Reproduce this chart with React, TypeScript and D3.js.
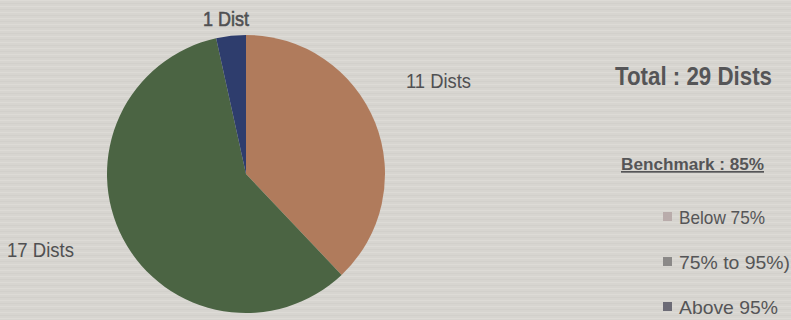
import React from "react";
import * as d3 from "d3";

const categories = ["Below 75%", "75% to 95%)", "Above 95%"];
const sliceLabels = ["11 Dists", "17 Dists", "1 Dist"];
const sliceValues = [11, 17, 1];
const sliceColors = ["#b07b5c", "#4b6443", "#2e3d6d"];
const legendColors = ["#b9acab", "#8b8988", "#6c6b76"];
const totalLabel = "Total : 29 Dists";
const benchmarkLabel = "Benchmark : 85%";

const W = 791;
const H = 320;
const FONT = "'Liberation Sans', Arial, sans-serif";

export default function App() {
  const cx = 246;
  const cy = 174;
  const r = 139;
  const pie = d3.pie<number>().sort(null).value((d) => d);
  const arcs = pie(sliceValues);
  const arcGen = d3.arc<d3.PieArcDatum<number>>().innerRadius(0).outerRadius(r);

  const labelPos = [
    { x: 406, y: 88, w: 65 },
    { x: 7, y: 257, w: 67 },
    { x: 203, y: 26, w: 46 },
  ];
  const legendWidths = [86, 111, 99];

  const stripes = d3.range(0, H, 3);
  const legendY = d3.scalePoint<string>().domain(categories).range([217, 307]);

  return (
    <svg
      width={W}
      height={H}
      style={{ position: "absolute", left: 0, top: 0, display: "block" }}
    >
      <rect width={W} height={H} fill="#d7d5d0" />
      {stripes.map((y, i) => (
        <line
          key={i}
          x1={0}
          x2={W}
          y1={y + 0.5}
          y2={y + 0.5}
          stroke={i % 2 === 0 ? "#e2e0db" : "#cfcdc8"}
          strokeWidth={1}
          opacity={0.6}
        />
      ))}
      <g transform={`translate(${cx},${cy})`}>
        {arcs.map((a, i) => (
          <path key={i} d={arcGen(a) || ""} fill={sliceColors[i]} />
        ))}
      </g>
      {sliceLabels.map((t, i) => (
        <text
          key={t}
          x={labelPos[i].x}
          y={labelPos[i].y}
          fontFamily={FONT}
          fontSize={21}
          fill="#505052"
          stroke={i === 2 ? "#505052" : "none"}
          strokeWidth={i === 2 ? 0.6 : 0}
          textLength={labelPos[i].w}
          lengthAdjust="spacingAndGlyphs"
        >
          {t}
        </text>
      ))}
      <text
        x={615}
        y={85}
        fontFamily={FONT}
        fontSize={25}
        fontWeight="bold"
        fill="#555557"
        textLength={157}
        lengthAdjust="spacingAndGlyphs"
      >
        {totalLabel}
      </text>
      <text
        x={621}
        y={170}
        fontFamily={FONT}
        fontSize={17}
        fontWeight="bold"
        fill="#555557"
        textDecoration="underline"
        textLength={143}
        lengthAdjust="spacingAndGlyphs"
      >
        {benchmarkLabel}
      </text>
      {categories.map((c, i) => {
        const y = legendY(c) as number;
        return (
          <g key={c}>
            <rect x={663} y={y - 5} width={9} height={9} fill={legendColors[i]} />
            <text
              x={679}
              y={y + 7}
              fontFamily={FONT}
              fontSize={19}
              fill="#555557"
              textLength={legendWidths[i]}
              lengthAdjust="spacingAndGlyphs"
            >
              {c}
            </text>
          </g>
        );
      })}
    </svg>
  );
}
